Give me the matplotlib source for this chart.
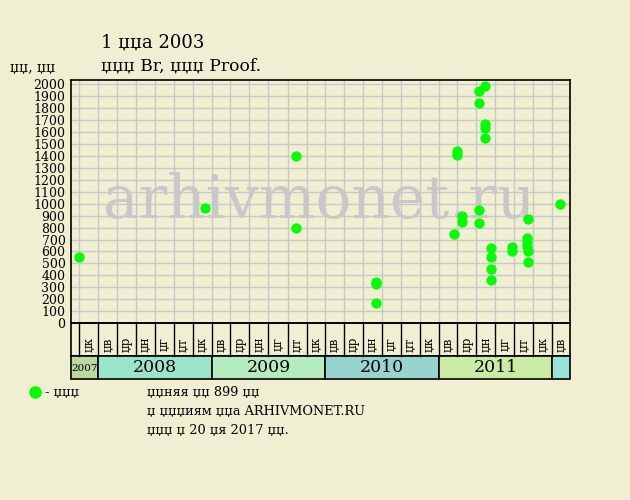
import datetime
import numpy as np
import matplotlib
matplotlib.use("Agg")
import matplotlib.pyplot as plt
import matplotlib.dates as mdates
from matplotlib.patches import Rectangle
from matplotlib.lines import Line2D

# --------- DATOS ---------
fechas = ["2007-11-01", "2008-12-09", "2009-09-28", "2009-09-28",
          "2010-06-14", "2010-06-14", "2010-06-14",
          "2011-02-20", "2011-03-01", "2011-03-01", "2011-03-15", "2011-03-15",
          "2011-05-11", "2011-05-11", "2011-05-11", "2011-05-11",
          "2011-05-31", "2011-05-31", "2011-05-31", "2011-05-31",
          "2011-06-19", "2011-06-19", "2011-06-19", "2011-06-19",
          "2011-08-23", "2011-08-23",
          "2011-10-10", "2011-10-11", "2011-10-13", "2011-10-15",
          "2011-10-16", "2011-10-16", "2012-01-27"]
precios = [550, 965, 1400, 800,
           345, 330, 172,
           750, 1440, 1410, 895, 850,
           1945, 1840, 945, 840,
           1980, 1665, 1635, 1550,
           630, 555, 455, 360,
           635, 600,
           715, 680, 645, 605,
           870, 510, 1000]

meses_etiquetas = ["џв", "џр", "џн", "џг", "џт", "џк"]
anios = [2007, 2008, 2009, 2010, 2011, 2012]
colores_anios = ["#BBD89E", "#9AE4C9", "#B4EBBF", "#97D4CF", "#C9EBA3", "#97E4D6"]

titulo = "1 џџа 2003"
subtitulo = "џџџ Br, џџџ Proof."
etiqueta_y = "џџ, џџ"
leyenda = "- џџџ"
notas = ["џџняя џџ 899 џџ", "џ џџџиям џџа ARHIVMONET.RU", "џџџ џ 20 џя 2017 џџ."]
marca_agua = "arhivmonet.ru"

# --------- ESTILO ---------
fondo = "#F0EFD2"
gris = "#C8C8C8"
verde = "#00FF00"
plt.rcParams['font.family'] = ['DejaVu Serif']

x_ini = mdates.date2num(datetime.date(2007, 10, 5))
x_fin = mdates.date2num(datetime.date(2012, 2, 27))
x = mdates.datestr2num(fechas)

fig = plt.figure(figsize=(6.3, 5), dpi=100, facecolor=fondo)
W, H = 630, 500
ax = fig.add_axes([71 / W, 1 - 323.3 / H, 499 / W, 243.3 / H], facecolor=fondo)

# Lineas de la cuadricula: cada 100 en y, cada dos meses en x
limites = [mdates.date2num(datetime.date(2007, 11, 1))]
for a in range(2008, 2013):
    for m in (1, 3, 5, 7, 9, 11):
        d = mdates.date2num(datetime.date(a, m, 1))
        if d < x_fin:
            limites.append(d)
for v in limites:
    ax.axvline(v, color=gris, lw=1.0, zorder=1)
for v in range(100, 2100, 100):
    ax.axhline(v, color=gris, lw=1.0, zorder=1)

ax.text(0.498, 0.432, marca_agua, transform=ax.transAxes, fontsize=43,
        color=gris, ha='center', va='baseline', zorder=1.5)

ax.scatter(x, precios, s=55, color=verde, zorder=3, clip_on=False, linewidths=0)

ax.set_xlim(x_ini, x_fin)
ax.set_ylim(0, 2033)
ax.set_yticks(range(0, 2100, 100))
ax.set_xticks([])
ax.tick_params(axis='y', length=0, pad=4, labelsize=9)
for s in ax.spines.values():
    s.set_linewidth(1.2)

# --------- FILAS DE MESES Y ANIOS ---------
ax2 = fig.add_axes([71 / W, 1 - 379 / H, 499 / W, 55.7 / H])
ax2.set_xlim(x_ini, x_fin)
ax2.set_ylim(0, 55.7)
ax2.axis('off')
ax2.add_patch(Rectangle((x_ini, 23.3), x_fin - x_ini, 32.4, fill=False,
                        edgecolor='black', lw=1.2, clip_on=False))
for v in limites:
    ax2.plot([v, v], [23.3, 55.7], color='black', lw=1, clip_on=False)
for i, v in enumerate(limites):
    fin = limites[i + 1] if i + 1 < len(limites) else x_fin
    mes = mdates.num2date(v).month
    etiqueta = meses_etiquetas[(mes // 2) % 6] if mes != 11 else meses_etiquetas[5]
    ax2.text((v + fin) / 2, 34.5, etiqueta, rotation=90, fontsize=8.5,
             ha='center', va='center')

for anio, color in zip(anios, colores_anios):
    a0 = max(mdates.date2num(datetime.date(anio, 1, 1)), x_ini)
    a1 = min(mdates.date2num(datetime.date(anio + 1, 1, 1)), x_fin)
    ax2.add_patch(Rectangle((a0, 0), a1 - a0, 23.3, facecolor=color,
                            edgecolor='black', lw=1.2, clip_on=False))
    if a1 - a0 > 200:
        ax2.text((a0 + a1) / 2, 11.5, str(anio), fontsize=12.5, ha='center', va='center')
    elif anio == 2007:
        ax2.text((a0 + a1) / 2, 10.5, str(anio), fontsize=7.5, ha='center', va='center')

# --------- TEXTOS ---------
fig.text(101 / W, 1 - 43 / H, titulo, fontsize=13, va='center')
fig.text(101 / W, 1 - 66 / H, subtitulo, fontsize=12.3, va='center')
fig.text(10 / W, 1 - 68 / H, etiqueta_y, fontsize=10, va='center')

fig.add_artist(Line2D([35 / W], [1 - 392 / H], marker='o', markersize=8,
                      color=verde, transform=fig.transFigure))
fig.text(45 / W, 1 - 392 / H, leyenda, fontsize=9.3, va='center')
for i, nota in enumerate(notas):
    fig.text(147 / W, 1 - (392 + 19.5 * i) / H, nota, fontsize=9.3, va='center')

fig.savefig("out.png", dpi=100, facecolor=fondo)
